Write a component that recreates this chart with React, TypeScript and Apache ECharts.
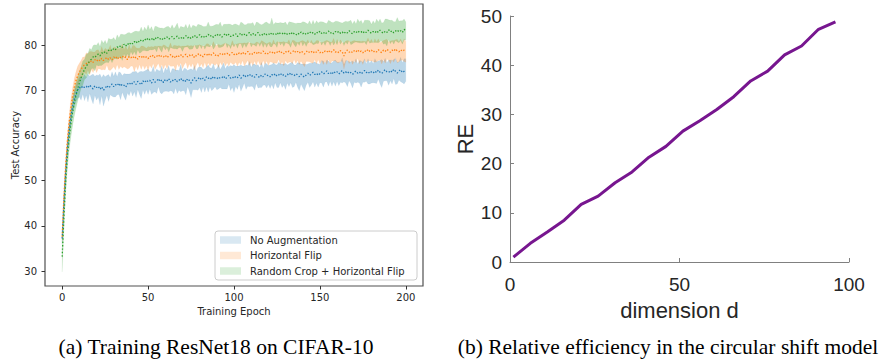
import React, { useEffect, useRef } from "react";
import * as echarts from "echarts";

// ---------- (a) Training ResNet18 on CIFAR-10 ----------
const epochs = Array.from({ length: 201 }, (_, i) => i);

const noAugMean = [
  37.2, 45.0, 51.8, 56.9, 60.8, 63.9, 66.2, 67.9, 69.2, 70.1, 70.7,
  70.4, 71.0, 70.6, 70.9, 70.5, 71.2, 70.7, 70.3, 71.0, 70.6,
  70.9, 70.2, 70.8, 70.0, 70.4, 71.1, 70.5, 70.9, 71.4, 70.8,
  71.3, 71.0, 71.6, 70.9, 71.4, 71.1, 70.7, 71.5, 71.2, 71.8,
  71.4, 71.9, 71.3, 72.0, 71.6, 71.2, 72.1, 71.7, 72.3, 71.9,
  72.2, 71.6, 72.4, 71.8, 72.0, 72.6, 71.9, 72.3, 71.7, 72.4,
  72.1, 72.6, 71.8, 72.3, 72.0, 72.5, 71.9, 72.2, 72.7, 72.0,
  72.4, 71.9, 72.6, 72.2, 71.6, 72.3, 72.8, 72.1, 72.5, 72.9,
  72.3, 72.7, 72.2, 73.0, 72.6, 72.9, 72.4, 73.1, 72.7, 72.5,
  73.0, 72.6, 72.8, 73.2, 72.5, 72.9, 73.3, 72.7, 73.0, 72.6,
  73.1, 72.8, 73.4, 72.7, 73.0, 73.5, 72.9, 73.2, 73.6, 73.0,
  73.3, 72.9, 73.5, 73.1, 72.8, 73.4, 73.0, 73.6, 73.2, 73.4,
  73.0, 73.5, 73.2, 73.7, 73.1, 73.4, 73.8, 73.2, 73.5, 73.1,
  73.6, 73.3, 73.9, 73.4, 73.2, 73.7, 73.4, 73.0, 73.6, 73.2,
  72.9, 73.4, 73.8, 73.3, 73.6, 74.0, 73.5, 73.8, 73.3, 73.7,
  74.1, 73.6, 73.9, 74.3, 73.7, 74.0, 73.5, 74.2, 73.8, 74.1,
  73.6, 74.0, 74.4, 73.8, 74.1, 73.7, 74.2, 73.9, 73.5, 74.0,
  74.3, 73.8, 74.1, 73.6, 74.0, 74.4, 73.9, 74.2, 73.7, 74.1,
  73.8, 74.3, 73.9, 74.5, 74.0, 73.7, 74.2, 74.6, 74.1, 73.9,
  74.4, 74.0, 74.7, 74.2, 73.8, 74.3, 74.6, 73.9, 74.2, 74.5,
];
const noAugStd = [
  1.2, 1.5, 1.6, 1.5, 1.4, 1.5, 1.6, 1.7, 1.8, 1.9, 2.2,
  2.6, 1.8, 2.9, 2.0, 3.1, 1.9, 2.7, 3.3, 2.1, 2.8,
  2.4, 3.4, 2.0, 3.5, 2.6, 2.2, 3.0, 1.9, 2.7, 2.3,
  2.8, 2.0, 2.5, 3.0, 1.8, 2.6, 2.9, 2.1, 2.4, 1.9,
  2.7, 2.2, 2.9, 1.8, 2.5, 3.0, 2.0, 2.6, 2.2, 2.8,
  1.9, 2.5, 2.9, 2.1, 2.7, 1.8, 2.4, 3.1, 2.0, 2.6,
  2.3, 2.9, 1.9, 2.5, 2.8, 2.0, 2.6, 2.2, 3.0, 2.1,
  2.5, 2.9, 1.8, 2.4, 3.2, 2.2, 2.7, 2.0, 2.5, 2.3,
  2.8, 1.9, 2.6, 2.2, 3.0, 2.1, 2.5, 2.8, 1.9, 2.4,
  2.7, 2.0, 2.5, 2.9, 2.2, 2.6, 1.9, 2.8, 2.3, 3.1,
  2.2, 2.6, 2.0, 2.9, 2.4, 1.9, 2.7, 2.3, 2.8, 2.1,
  2.5, 2.9, 2.0, 2.6, 2.2, 2.8, 1.9, 2.4, 2.7, 2.1,
  2.6, 2.2, 2.9, 2.0, 2.5, 2.8, 2.1, 2.6, 2.3, 2.9,
  2.0, 2.5, 2.2, 2.8, 2.4, 1.9, 2.7, 3.1, 2.2, 2.6,
  3.0, 2.3, 2.0, 2.7, 2.4, 2.1, 2.8, 2.2, 2.6, 2.0,
  2.5, 2.9, 2.1, 2.4, 2.8, 2.0, 2.6, 2.3, 2.9, 2.1,
  2.6, 2.2, 2.8, 1.9, 2.5, 2.9, 2.1, 2.4, 3.0, 2.2,
  2.7, 2.0, 2.5, 2.9, 2.2, 2.6, 1.9, 2.8, 2.3, 2.5,
  2.1, 2.7, 2.4, 2.0, 2.6, 3.1, 2.2, 2.5, 2.0, 2.8,
  2.3, 2.6, 2.1, 2.9, 2.4, 2.0, 2.7, 2.2, 2.8, 2.5,
];

const flipMean = [
  37.6, 46.3, 53.2, 58.6, 62.7, 66.0, 68.6, 70.6, 72.1, 73.2, 74.0,
  74.7, 75.2, 75.7, 75.9, 76.3, 76.0, 76.6, 76.2, 76.8, 76.4,
  76.9, 76.5, 77.1, 76.6, 76.9, 77.3, 76.8, 77.2, 76.7, 77.4,
  77.0, 77.5, 76.9, 77.3, 77.6, 77.1, 77.4, 76.8, 77.5, 77.2,
  77.6, 77.0, 77.4, 76.9, 77.5, 77.2, 77.7, 77.1, 77.4, 77.0,
  77.6, 77.3, 77.8, 77.2, 77.5, 77.9, 77.3, 77.7, 77.4, 77.8,
  77.2, 77.6, 77.9, 77.4, 77.7, 77.1, 77.8, 77.5, 77.9, 77.3,
  77.7, 78.0, 77.4, 77.8, 77.5, 77.9, 77.2, 77.7, 78.1, 77.6,
  77.9, 77.4, 78.0, 77.7, 78.2, 77.6, 77.9, 78.3, 77.7, 78.0,
  77.6, 78.1, 77.8, 78.3, 77.9, 78.2, 77.7, 78.0, 78.4, 77.9,
  78.2, 77.8, 78.3, 78.0, 78.5, 77.9, 78.2, 78.6, 78.0, 78.3,
  77.9, 78.4, 78.1, 78.6, 78.0, 78.3, 78.7, 78.1, 78.4, 78.0,
  78.5, 78.2, 78.6, 78.1, 78.4, 78.8, 78.2, 78.5, 78.1, 78.6,
  78.3, 78.7, 78.2, 78.5, 78.9, 78.3, 78.6, 78.2, 78.7, 78.4,
  78.0, 78.5, 78.8, 78.3, 78.6, 78.2, 78.7, 78.4, 78.9, 78.3,
  78.6, 78.2, 78.7, 78.4, 78.9, 78.3, 78.6, 79.0, 78.4, 78.7,
  78.3, 78.8, 78.5, 77.6, 78.6, 78.9, 78.4, 78.7, 78.3, 78.8,
  78.5, 79.0, 78.4, 78.7, 78.3, 78.8, 78.5, 79.1, 78.6, 78.9,
  78.4, 78.8, 78.5, 79.0, 78.6, 78.3, 78.9, 78.6, 79.1, 78.7,
  78.4, 78.9, 78.6, 79.2, 78.7, 78.5, 79.0, 78.6, 78.9, 78.5,
];
const flipStd = [
  1.0, 1.3, 1.5, 1.6, 1.7, 1.8, 1.8, 1.9, 2.0, 2.1, 2.0,
  1.9, 2.2, 1.7, 2.4, 1.8, 2.6, 2.0, 2.3, 1.7, 2.5,
  2.1, 1.8, 2.6, 2.0, 2.4, 1.7, 2.3, 2.8, 1.9, 2.2,
  2.5, 1.8, 2.3, 2.0, 2.7, 1.9, 2.4, 2.1, 2.6, 1.8,
  2.3, 2.9, 2.0, 2.4, 1.8, 2.6, 2.1, 2.5, 1.9, 2.7,
  2.0, 2.4, 1.8, 2.6, 2.2, 1.9, 2.5, 2.0, 2.7, 2.1,
  2.4, 1.9, 2.6, 2.1, 2.3, 2.8, 2.0, 2.4, 1.8, 2.5,
  2.1, 1.8, 2.6, 2.0, 2.4, 1.9, 2.7, 2.2, 1.9, 2.5,
  2.0, 2.4, 1.8, 2.6, 2.1, 2.3, 1.9, 2.5, 2.2, 2.0,
  2.6, 1.9, 2.3, 2.0, 2.5, 2.1, 2.4, 1.8, 2.6, 2.2,
  2.0, 2.5, 2.1, 2.4, 1.9, 2.6, 2.2, 2.0, 2.5, 2.1,
  2.4, 1.9, 2.6, 2.0, 2.3, 2.7, 2.1, 2.4, 1.9, 2.5,
  2.2, 2.0, 2.6, 2.1, 2.4, 1.9, 2.5, 2.2, 2.7, 2.0,
  2.3, 2.5, 1.9, 2.6, 2.1, 2.4, 2.0, 2.5, 2.2, 2.6,
  2.8, 2.1, 2.4, 2.0, 2.5, 2.2, 1.9, 2.6, 2.1, 2.4,
  2.0, 2.5, 2.2, 2.7, 2.0, 2.4, 2.1, 2.5, 1.9, 2.6,
  2.2, 2.4, 2.0, 2.9, 2.3, 2.1, 2.5, 2.0, 2.6, 2.2,
  2.4, 1.9, 2.5, 2.1, 2.6, 2.0, 2.3, 2.5, 2.1, 2.4,
  2.0, 2.6, 2.2, 2.4, 1.9, 2.5, 2.1, 2.6, 2.2, 2.0,
  2.5, 2.1, 2.4, 2.0, 2.6, 2.2, 2.4, 1.9, 2.5, 2.3,
];

const cropFlipMean = [
  33.2, 42.0, 49.6, 55.2, 59.3, 62.4, 65.0, 67.1, 68.8, 70.3, 71.6,
  72.8, 73.8, 74.6, 75.3, 75.9, 76.5, 76.9, 77.4, 77.2, 77.8,
  78.0, 77.6, 78.3, 78.1, 78.6, 78.2, 78.8, 79.1, 78.7, 79.3,
  79.0, 79.6, 79.4, 79.9, 79.5, 80.2, 79.8, 80.4, 80.0, 80.6,
  80.3, 80.8, 80.4, 81.0, 80.6, 81.2, 80.9, 81.4, 81.0, 81.6,
  81.2, 81.5, 81.0, 81.7, 81.3, 81.8, 81.4, 81.1, 81.7, 81.4,
  81.8, 81.3, 81.6, 81.9, 81.4, 81.7, 82.0, 81.5, 81.8, 81.3,
  81.7, 82.1, 81.6, 81.9, 81.4, 81.8, 82.2, 81.6, 81.9, 82.3,
  81.8, 82.1, 81.6, 82.0, 82.4, 81.9, 82.2, 81.7, 82.1, 82.5,
  82.0, 82.3, 81.8, 82.2, 82.6, 82.0, 82.4, 81.9, 82.3, 82.1,
  82.5, 81.9, 82.3, 82.7, 82.1, 82.4, 82.0, 82.5, 82.8, 82.2,
  82.6, 82.1, 82.4, 82.8, 82.2, 82.5, 82.1, 82.7, 82.3, 82.6,
  82.2, 82.8, 82.4, 82.6, 82.2, 82.9, 82.5, 82.7, 82.3, 82.8,
  82.4, 82.7, 82.3, 82.9, 82.5, 82.2, 82.7, 82.4, 82.9, 82.5,
  82.8, 82.3, 82.6, 83.0, 82.5, 82.8, 82.4, 82.9, 82.6, 83.1,
  82.6, 82.9, 82.4, 82.8, 83.1, 82.6, 82.9, 82.5, 83.0, 82.7,
  83.1, 82.6, 82.9, 82.5, 83.0, 82.7, 83.2, 82.8, 82.5, 83.0,
  82.7, 83.2, 82.8, 83.0, 82.6, 83.1, 82.8, 83.3, 82.9, 82.6,
  83.0, 82.7, 83.2, 82.8, 83.3, 82.9, 82.6, 83.1, 82.8, 83.4,
  82.9, 83.2, 82.7, 83.1, 83.4, 82.9, 83.2, 82.8, 83.5, 83.1,
];
const cropFlipStd = [
  3.4, 3.0, 2.8, 2.7, 2.8, 2.9, 3.0, 2.9, 2.8, 2.7, 2.6,
  2.4, 2.7, 2.2, 2.6, 2.3, 2.8, 2.1, 2.5, 2.9, 2.2,
  2.6, 2.1, 2.8, 2.3, 2.5, 2.0, 2.7, 2.2, 2.6, 2.4,
  2.0, 2.7, 2.2, 2.5, 2.9, 2.1, 2.6, 2.3, 2.8, 2.0,
  2.5, 2.2, 2.7, 2.0, 2.4, 2.8, 2.1, 2.6, 2.3, 2.9,
  2.2, 2.6, 2.0, 2.5, 2.8, 2.1, 2.4, 2.7, 2.0, 2.5,
  2.3, 2.8, 2.1, 2.6, 2.2, 2.5, 2.9, 2.0, 2.4, 2.7,
  2.2, 2.5, 2.0, 2.8, 2.3, 2.6, 2.1, 2.4, 2.7, 2.2,
  2.6, 2.0, 2.5, 2.2, 2.7, 2.3, 2.0, 2.6, 2.4, 2.1,
  2.5, 2.8, 2.2, 2.4, 2.0, 2.6, 2.3, 2.7, 2.1, 2.5,
  2.2, 2.6, 2.0, 2.4, 2.8, 2.1, 2.5, 2.3, 2.0, 2.6,
  2.4, 2.1, 2.7, 2.2, 2.5, 2.0, 2.6, 2.3, 2.8, 2.2,
  2.5, 3.2, 2.1, 2.4, 2.7, 2.0, 2.5, 2.2, 2.6, 2.3,
  2.0, 2.5, 2.8, 2.1, 2.4, 2.6, 2.2, 2.5, 2.0, 2.7,
  2.3, 2.6, 2.1, 2.4, 2.0, 2.7, 2.2, 2.5, 2.3, 2.1,
  2.6, 2.2, 2.5, 2.0, 2.4, 2.7, 2.1, 2.5, 2.3, 2.6,
  2.1, 2.4, 2.0, 2.6, 2.3, 2.5, 2.1, 2.7, 2.2, 2.4,
  2.0, 2.6, 2.3, 2.5, 2.1, 2.4, 2.7, 2.2, 2.5, 2.0,
  2.4, 2.1, 2.6, 2.3, 2.5, 2.0, 2.4, 2.7, 3.0, 2.2,
  2.6, 2.3, 2.5, 2.1, 2.7, 2.4, 2.2, 2.6, 2.3, 2.0,
];

const seriesNamesA = ["No Augmentation", "Horizontal Flip", "Random Crop + Horizontal Flip"];
const xTicksA = [0, 50, 100, 150, 200];
const yTicksA = [30, 40, 50, 60, 70, 80];

// ---------- (b) Relative efficiency ----------
const dims = [1, 6, 11, 16, 21, 26, 31, 36, 41, 46, 51, 56, 61, 66, 71, 76, 81, 86, 91, 96];
const reValues = [1.0, 3.8, 6.1, 8.5, 11.7, 13.4, 16.1, 18.3, 21.3, 23.5, 26.6, 28.7, 31.0, 33.6, 36.8, 38.8, 42.1, 43.9, 47.3, 48.8];

const COLORS = ["#1f77b4", "#ff7f0e", "#2ca02c"];

function bandSeries(name: string, mean: number[], std: number[], color: string) {
  const bandData = epochs.map((e, i) => [e, +(mean[i] - std[i]).toFixed(2), +(mean[i] + std[i]).toFixed(2)]);
  const center = epochs.map((e, i) => [e, mean[i]]);
  return [
    {
      type: "custom", name: name + "_band", xAxisIndex: 0, yAxisIndex: 0, silent: true,
      data: bandData,
      encode: { x: 0, y: [1, 2] },
      renderItem: (params: any, api: any) => {
        if (params.dataIndex !== 0) return null;
        const upper = bandData.map((d) => api.coord([d[0], d[2]]));
        const lower = bandData.map((d) => api.coord([d[0], d[1]])).reverse();
        return {
          type: "polygon",
          shape: { points: upper.concat(lower) },
          style: { fill: color, opacity: 0.3, stroke: color, lineWidth: 0.5, strokeOpacity: 0.35 },
        };
      },
    },
    {
      type: "line", name, xAxisIndex: 0, yAxisIndex: 0, data: center,
      symbol: "none", silent: true, lineStyle: { width: 1.3, color, type: [1.4, 2] },
    },
  ];
}

export default function App() {
  const ref = useRef<HTMLDivElement>(null);
  useEffect(() => {
    document.body.style.margin = "0";
    const chart = echarts.init(ref.current!, null, { renderer: "svg" });
    const mpl = "DejaVu Sans";
    const mat = "Liberation Sans";
    const legendRows = [240, 255.5, 271];
    const legendGraphics: any[] = [
      {
        type: "rect", z: 100,
        shape: { x: 215, y: 231, width: 202, height: 49, r: 3 },
        style: { fill: "rgba(255,255,255,0.85)", stroke: "#cccccc", lineWidth: 1 },
      },
    ];
    seriesNamesA.forEach((n, i) => {
      legendGraphics.push({
        type: "rect", z: 101,
        shape: { x: 220, y: legendRows[i] - 3.75, width: 21, height: 7.5 },
        style: { fill: COLORS[i], opacity: 0.17 },
      });
      legendGraphics.push({
        type: "text", z: 101, x: 250, y: legendRows[i],
        style: { text: n, font: `10px "${mpl}"`, fill: "#262626", textVerticalAlign: "middle" },
      });
    });

    const option: any = {
      animation: false,
      backgroundColor: "#ffffff",
      grid: [
        { left: 45, top: 4, width: 378, height: 282, show: true, borderColor: "#505050", borderWidth: 1.2, backgroundColor: "transparent" },
        { left: 510, top: 16, width: 339, height: 246 },
      ],
      xAxis: [
        {
          gridIndex: 0, type: "value", min: -10, max: 210,
          name: "Training Epoch", nameLocation: "middle", nameGap: 19,
          nameTextStyle: { fontFamily: mpl, fontSize: 10, color: "#262626" },
          axisLine: { show: false, onZero: false },
          axisTick: { show: true, inside: false, length: 3.5, customValues: xTicksA, lineStyle: { color: "#333" } },
          axisLabel: { customValues: xTicksA, fontFamily: mpl, fontSize: 10, color: "#262626", margin: 6 },
          splitLine: { show: false },
        },
        {
          gridIndex: 1, type: "value", min: 0, max: 100, interval: 50,
          name: "dimension d", nameLocation: "middle", nameGap: 37,
          nameTextStyle: { fontFamily: mat, fontSize: 22, color: "#262626" },
          axisLine: { show: true, onZero: false, lineStyle: { color: "#808080", width: 1 } },
          axisTick: { show: true, inside: true, length: 4, lineStyle: { color: "#808080" } },
          axisLabel: { fontFamily: mat, fontSize: 19, color: "#262626", margin: 13 },
          splitLine: { show: false },
        },
      ],
      yAxis: [
        {
          gridIndex: 0, type: "value", min: 26.7, max: 89.1,
          name: "Test Accuracy", nameLocation: "middle", nameGap: 25,
          nameTextStyle: { fontFamily: mpl, fontSize: 10, color: "#262626" },
          axisLine: { show: false, onZero: false },
          axisTick: { show: true, inside: false, length: 3.5, customValues: yTicksA, lineStyle: { color: "#333" } },
          axisLabel: { customValues: yTicksA, fontFamily: mpl, fontSize: 10, color: "#262626", margin: 8 },
          splitLine: { show: false },
        },
        {
          gridIndex: 1, type: "value", min: 0, max: 50, interval: 10,
          name: "RE", nameLocation: "middle", nameGap: 34,
          nameTextStyle: { fontFamily: mat, fontSize: 22, color: "#262626" },
          axisLine: { show: true, onZero: false, lineStyle: { color: "#808080", width: 1 } },
          axisTick: { show: true, inside: true, length: 4, lineStyle: { color: "#808080" } },
          axisLabel: { fontFamily: mat, fontSize: 19, color: "#262626", margin: 8 },
          splitLine: { show: false },
        },
      ],
      series: [
        ...bandSeries(seriesNamesA[0], noAugMean, noAugStd, COLORS[0]),
        ...bandSeries(seriesNamesA[1], flipMean, flipStd, COLORS[1]),
        ...bandSeries(seriesNamesA[2], cropFlipMean, cropFlipStd, COLORS[2]),
        {
          type: "line", name: "RE", xAxisIndex: 1, yAxisIndex: 1,
          data: dims.map((d, i) => [d, reValues[i]]),
          symbol: "none", lineStyle: { color: "#77168f", width: 3 },
        },
      ],
      graphic: [
        ...legendGraphics,
        {
          type: "text", z: 100, x: 216, y: 347,
          style: { text: "(a) Training ResNet18 on CIFAR-10", font: '21.5px "Liberation Serif"', fill: "#000", textAlign: "center", textVerticalAlign: "middle" },
        },
        {
          type: "text", z: 100, x: 668, y: 347,
          style: { text: "(b) Relative efficiency in the circular shift model", font: '21.5px "Liberation Serif"', fill: "#000", textAlign: "center", textVerticalAlign: "middle" },
        },
      ],
    };
    chart.setOption(option);
    return () => chart.dispose();
  }, []);
  return <div ref={ref} style={{ width: 883, height: 360 }} />;
}
